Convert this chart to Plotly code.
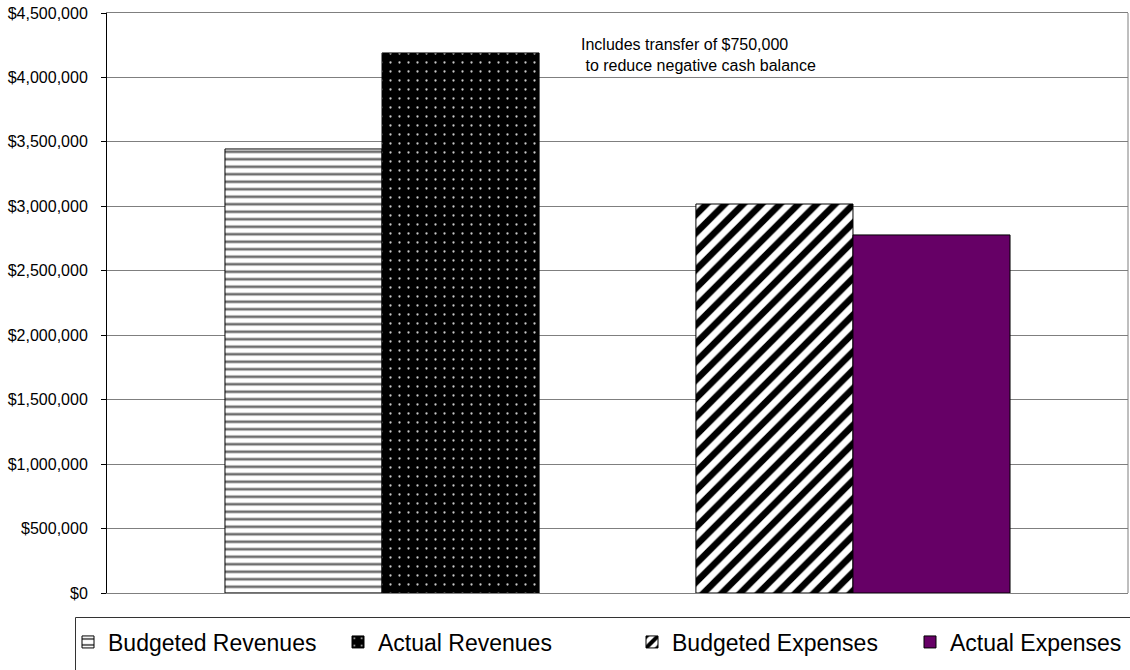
import plotly.graph_objects as go

# Budget vs. actual comparison, one group per side of the ledger
groups = ["Revenues", "Expenses"]
budgeted_revenues = [3445000]
actual_revenues = [4190000]
budgeted_expenses = [3018000]
actual_expenses = [2778000]

series_names = ["Budgeted Revenues", "Actual Revenues", "Budgeted Expenses", "Actual Expenses"]
note_text = "Includes transfer of $750,000<br>\u00a0to reduce negative cash balance"

W, H = 1130, 670
ML, MR, MT, MB = 107, 2, 13, 77
PW, PH = W - ML - MR, H - MT - MB

FONT = "Liberation Sans, Arial, sans-serif"


def px_to_paper_x(px):
    return (px - ML) / PW


def px_to_paper_y(py):
    return (H - MB - py) / PH


outline = dict(color="black", width=1)

fig = go.Figure()
fig.add_trace(go.Bar(
    name=series_names[0], x=[groups[0]], y=budgeted_revenues,
    offsetgroup="budget", legend="legend",
    marker=dict(color="white", line=outline,
                pattern=dict(shape="-", fgcolor="#6e6e6e", bgcolor="white",
                             size=7.5, solidity=0.35, fillmode="replace",
                             fgopacity=1)),
))
fig.add_trace(go.Bar(
    name=series_names[1], x=[groups[0]], y=actual_revenues,
    offsetgroup="actual", legend="legend2",
    marker=dict(color="black", line=outline,
                pattern=dict(shape=".", fgcolor="#c8c8c8", bgcolor="black",
                             size=9, solidity=0.05, fillmode="replace",
                             fgopacity=1)),
))
fig.add_trace(go.Bar(
    name=series_names[2], x=[groups[1]], y=budgeted_expenses,
    offsetgroup="budget", legend="legend3",
    marker=dict(color="white", line=outline,
                pattern=dict(shape="/", fgcolor="black", bgcolor="white",
                             size=13, solidity=0.5, fillmode="replace",
                             fgopacity=1)),
))
fig.add_trace(go.Bar(
    name=series_names[3], x=[groups[1]], y=actual_expenses,
    offsetgroup="actual", legend="legend4",
    marker=dict(color="#660066", line=outline),
))

# one single-entry legend per series, spaced along the bottom strip
legend_text_starts = [108, 378, 672, 950]
legend_center_y = 642


def legend_at(text_px):
    return dict(
        x=(text_px - 40) / W, xref="container", xanchor="left",
        y=1 - legend_center_y / H, yref="container", yanchor="middle",
        orientation="h", bgcolor="rgba(0,0,0,0)", borderwidth=0,
        font=dict(family=FONT, size=23, color="black"),
    )


fig.update_layout(
    width=W, height=H,
    margin=dict(l=ML, r=MR, t=MT, b=MB, pad=0),
    paper_bgcolor="white", plot_bgcolor="white",
    barmode="group", bargap=0.333, bargroupgap=0,
    showlegend=True,
    legend=legend_at(legend_text_starts[0]),
    legend2=legend_at(legend_text_starts[1]),
    legend3=legend_at(legend_text_starts[2]),
    legend4=legend_at(legend_text_starts[3]),
    font=dict(family=FONT, color="black"),
    xaxis=dict(
        type="category", categoryorder="array", categoryarray=groups,
        range=[-0.584, 1.584], showticklabels=False, ticks="",
        showgrid=False, zeroline=False,
        showline=True, linecolor="#7f7f7f", linewidth=1, mirror=True,
    ),
    yaxis=dict(
        range=[0, 4500000], dtick=500000, tickformat="$,.0f",
        showgrid=True, gridcolor="#7f7f7f", gridwidth=1,
        zeroline=False, showline=True, linecolor="black", linewidth=1,
        ticks="outside", ticklen=5, tickcolor="black", tickwidth=1,
        ticklabelstandoff=10,
        tickfont=dict(family=FONT, size=16, color="black"),
    ),
    annotations=[dict(
        text=note_text, xref="paper", yref="paper",
        x=px_to_paper_x(579), y=px_to_paper_y(55),
        xanchor="left", yanchor="middle", align="left", showarrow=False,
        font=dict(family=FONT, size=16, color="black"),
    )],
    shapes=[
        # right edge of the plot frame
        dict(type="line", xref="paper", yref="paper", x0=1, x1=1, y0=0, y1=1,
             line=dict(color="#7f7f7f", width=1)),
        # frame around the legend strip
        dict(type="rect", xref="paper", yref="paper",
             x0=px_to_paper_x(75.5), x1=px_to_paper_x(1145),
             y0=px_to_paper_y(617.5), y1=px_to_paper_y(690),
             line=dict(color="#333333", width=1), fillcolor="rgba(0,0,0,0)"),
    ],
)

fig.write_html("out.html")
